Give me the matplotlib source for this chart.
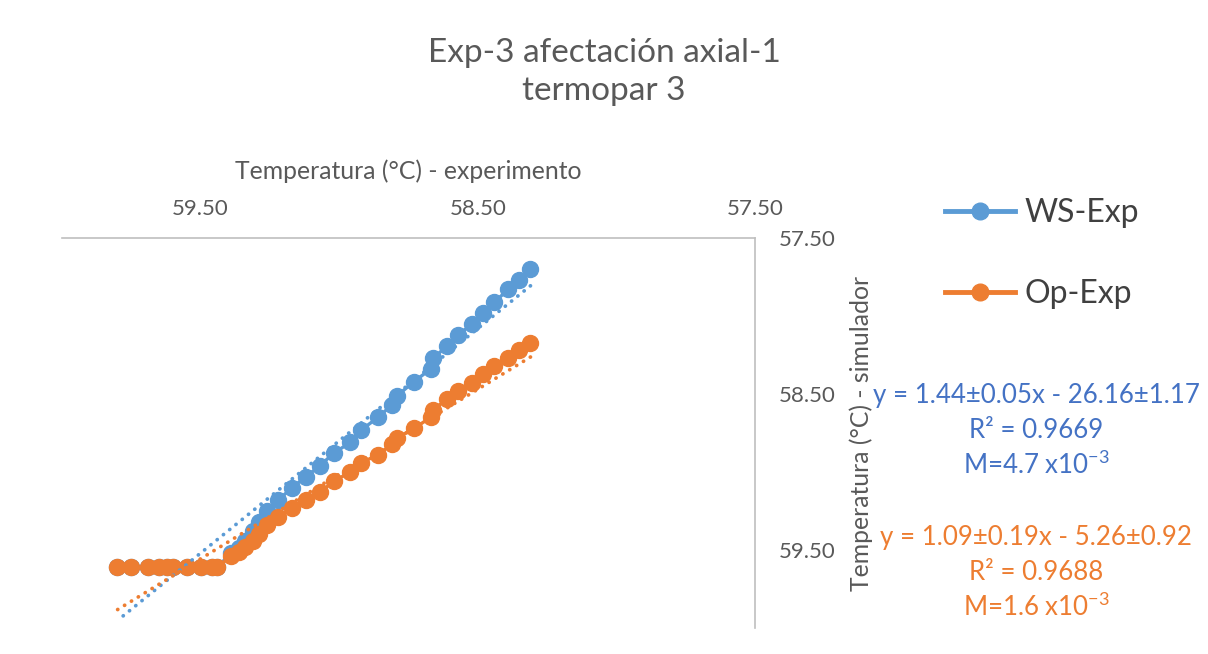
import numpy as np
import matplotlib.pyplot as plt
from matplotlib.ticker import FormatStrFormatter

plt.rcParams['font.family'] = ['Lato', 'DejaVu Sans']
plt.rcParams['mathtext.fontset'] = 'custom'
plt.rcParams['mathtext.rm'] = 'Lato'
plt.rcParams['mathtext.it'] = 'Lato'

# data
exp_temp = [59.80, 59.75, 59.69, 59.65, 59.62, 59.60, 59.55, 59.50, 59.46, 59.44,
            59.39, 59.36, 59.34, 59.31, 59.29, 59.26, 59.22, 59.17, 59.12, 59.07,
            59.02, 58.96, 58.92, 58.86, 58.81, 58.79, 58.73, 58.67, 58.66, 58.61,
            58.57, 58.52, 58.48, 58.44, 58.39, 58.35, 58.31]
ws_sim = [59.61, 59.61, 59.61, 59.61, 59.61, 59.61, 59.61, 59.61, 59.61, 59.61,
          59.52, 59.49, 59.44, 59.38, 59.32, 59.25, 59.18, 59.10, 59.03, 58.96,
          58.88, 58.81, 58.73, 58.65, 58.57, 58.51, 58.42, 58.34, 58.27, 58.19,
          58.12, 58.05, 57.98, 57.91, 57.83, 57.77, 57.70]
op_sim = [59.61, 59.61, 59.61, 59.61, 59.61, 59.61, 59.61, 59.61, 59.61, 59.61,
          59.54, 59.51, 59.48, 59.44, 59.40, 59.34, 59.29, 59.23, 59.18, 59.13,
          59.06, 59.00, 58.94, 58.89, 58.82, 58.78, 58.72, 58.65, 58.60, 58.53,
          58.48, 58.43, 58.37, 58.32, 58.27, 58.22, 58.17]

series_names = ['WS-Exp', 'Op-Exp']
series_colors = ['#5B9BD5', '#ED7D31']
text_colors = ['#4472C4', '#ED7D31']

# linear trendlines (slope, intercept) as drawn
trend_slope = [1.44, 1.087]
trend_icept = [-26.16, -5.12]

fit_labels = [
    ['y = 1.44±0.05x - 26.16±1.17', 'R² = 0.9669', r'M=4.7 x10$^{-3}$'],
    ['y = 1.09±0.19x - 5.26±0.92', 'R² = 0.9688', r'M=1.6 x10$^{-3}$'],
]

W, H = 1208, 654
fig = plt.figure(figsize=(W / 100, H / 100), dpi=100)
ax = fig.add_axes([62 / W, 1 - 628 / H, (755 - 62) / W, (628 - 238) / H])

handles = []
for ys, name, col in zip([ws_sim, op_sim], series_names, series_colors):
    h, = ax.plot(exp_temp, ys, color=col, lw=2.4, marker='o', ms=11.5,
                 label=name, zorder=2)
    handles.append(h)

xx = np.array([min(exp_temp), max(exp_temp)])
for m, b, col in zip(trend_slope, trend_icept, series_colors):
    ax.plot(xx, m * xx + b, color=col, lw=2.7, linestyle=(0, (0.05, 2.1)),
            dash_capstyle='round', zorder=3)

ax.set_xlim(60, 57.5)
ax.set_ylim(60, 57.5)
ax.set_xticks([59.5, 58.5, 57.5])
ax.set_yticks([57.5, 58.5, 59.5])
ax.xaxis.set_major_formatter(FormatStrFormatter('%.2f'))
ax.yaxis.set_major_formatter(FormatStrFormatter('%.2f'))
ax.xaxis.tick_top()
ax.xaxis.set_label_position('top')
ax.yaxis.tick_right()
ax.yaxis.set_label_position('right')
for s in ['left', 'bottom']:
    ax.spines[s].set_visible(False)
for s in ['top', 'right']:
    ax.spines[s].set_color('#BFBFBF')
    ax.spines[s].set_linewidth(1.2)
ax.tick_params(length=0, labelsize=16, labelcolor='#595959')
ax.tick_params(axis='x', pad=14)
ax.tick_params(axis='y', pad=17)
ax.set_xlabel('Temperatura (°C) - experimento', fontsize=17.8, color='#595959', labelpad=14)
ax.set_ylabel('Temperatura (°C) - simulador', fontsize=17.8, color='#595959', labelpad=10)

fig.text(0.5, 1 - 72 / H, 'Exp-3 afectación axial-1\ntermopar 3', ha='center', va='center',
         fontsize=24, color='#595959', linespacing=1.3)

leg = fig.legend(handles=handles, loc='upper left', bbox_to_anchor=(945 / W, 1 - 198 / H),
                 frameon=False, fontsize=23, handlelength=2.2, handletextpad=0.3,
                 labelspacing=1.6, borderpad=0, borderaxespad=0)
for t in leg.get_texts():
    t.set_color('#404040')
for lh in leg.legend_handles:
    lh.set_linewidth(3.5)
    lh.set_markersize(12)

x_txt = 1036 / W
for block, col, y0 in zip(fit_labels, text_colors, [395, 537]):
    for i, line in enumerate(block):
        fig.text(x_txt, 1 - (y0 + i * 35) / H, line, color=col, fontsize=18.6,
                 ha='center', va='center')

fig.savefig('out.png', dpi=100)
